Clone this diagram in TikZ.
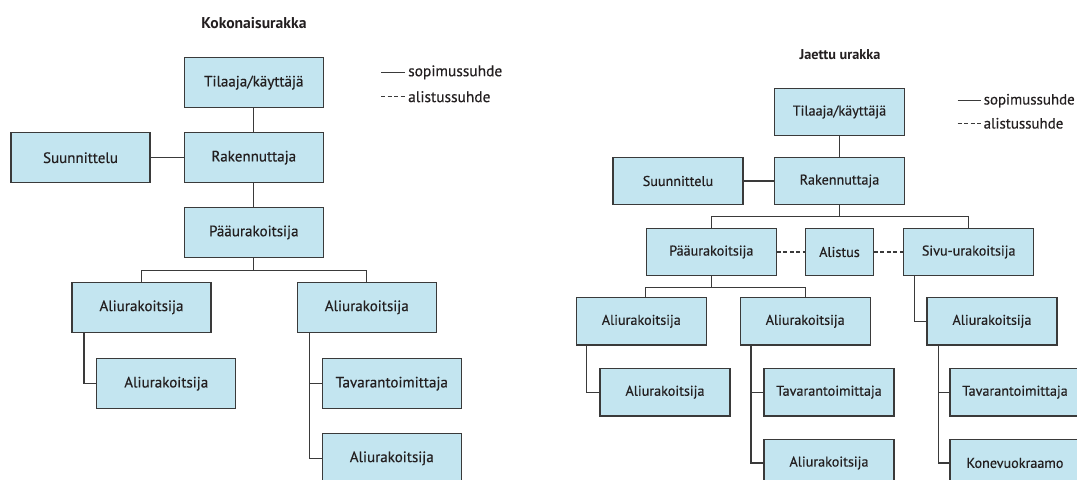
\documentclass[tikz,border=0pt]{standalone}
\usepackage{fontspec}
\setmainfont{PT Sans}
\newfontfamily\labelfont[FakeBold=0.4]{PT Sans}
\usetikzlibrary{calc}
\definecolor{boxfill}{HTML}{C3E5F0}
\definecolor{boxline}{HTML}{3A3A3A}
\definecolor{ink}{HTML}{231F20}
\begin{document}
\begin{tikzpicture}[x=1bp,y=-1bp,
  box/.style={draw=boxline, fill=boxfill, line width=1.3bp, inner sep=0pt, text=ink},
  bigbox/.style={box, minimum width=139bp, minimum height=50bp, font=\labelfont\fontsize{15.1}{17}\selectfont},
  smallbox/.style={box, minimum width=130bp, minimum height=47.5bp, font=\labelfont\fontsize{14.2}{16}\selectfont},
  link/.style={draw=boxline, line width=1.3bp},
  subord/.style={link, dash pattern=on 4bp off 2.5bp},
  heading/.style={font=\bfseries\fontsize{15.7}{18}\selectfont, text=ink},
  legendtext/.style={anchor=west, inner sep=0pt, text=ink, font=\labelfont\fontsize{15.5}{17}\selectfont}]
\useasboundingbox (0,0) rectangle (1077,480);
\clip (0,0) rectangle (1077,480);

% ---------- Kokonaisurakka ----------
\node[heading] (h1) at (254,22.7) {Kokonaisurakka};

\node[bigbox] (T1) at (253.8,82.7) {Tilaaja/käyttäjä};
\node[bigbox] (S1) at (80.5,157.7) {Suunnittelu};
\node[bigbox] (R1) at (253.8,157.7) {Rakennuttaja};
\node[bigbox] (P1) at (253.8,232.5) {Pääurakoitsija};
\node[bigbox] (A1) at (141.5,307.3) {Aliurakoitsija};
\node[bigbox] (B1) at (366.8,307.3) {Aliurakoitsija};
\node[bigbox] (A1s) at (166.3,383.7) {Aliurakoitsija};
\node[bigbox] (B1t) at (391.8,383.7) {Tavarantoimittaja};
\node[bigbox] (B1a) at (391.8,458.3) {Aliurakoitsija};

\draw[link] (T1.south) -- (R1.north);
\draw[link] (S1.east) -- (R1.west);
\draw[link] (R1.south) -- (P1.north);
\coordinate (bus1) at ($(P1.south)+(0,12.7)$);
\draw[link] (P1.south) -- (bus1);
\draw[link] (A1.north) |- (bus1) -| (B1.north);
\draw[link] ($(A1.south west)+(12.7,0)$) |- (A1s.west);
\draw[link] ($(B1.south west)+(12.6,0)$) |- (B1t.west);
\draw[link] ($(B1.south west)+(12.6,0)$) |- (B1a.west);

% legend
\coordinate (k1a) at (381,72.3);  \coordinate (k1b) at (405,72.3);
\coordinate (k2a) at (381,96.7);  \coordinate (k2b) at (405,96.7);
\draw[link] (k1a) -- (k1b);
\draw[subord] (k2a) -- (k2b);
\node[legendtext] (kt1) at (408,72.3) {sopimussuhde};
\node[legendtext] (kt2) at (408,96.7) {alistussuhde};

% ---------- Jaettu urakka ----------
\node[heading, font=\bfseries\fontsize{14.3}{16}\selectfont] (h2) at (840,55) {Jaettu urakka};

\node[smallbox] (T2) at (839.5,112) {Tilaaja/käyttäjä};
\node[smallbox] (S2) at (678,181) {Suunnittelu};
\node[smallbox] (R2) at (839.5,181) {Rakennuttaja};
\node[smallbox] (P2) at (711.3,252) {Pääurakoitsija};
\node[smallbox, minimum width=67.6bp] (L2) at (839.5,252) {Alistus};
\node[smallbox] (V2) at (968.7,252) {Sivu-urakoitsija};
\node[smallbox] (A2) at (641.3,321.3) {Aliurakoitsija};
\node[smallbox] (M2) at (805.2,321.3) {Aliurakoitsija};
\node[smallbox] (A2s) at (665,392.2) {Aliurakoitsija};
\node[smallbox] (M2t) at (829,392.2) {Tavarantoimittaja};
\node[smallbox] (M2a) at (829,463) {Aliurakoitsija};
\node[smallbox] (C2) at (992,321.3) {Aliurakoitsija};
\node[smallbox] (C2t) at (1015,392.2) {Tavarantoimittaja};
\node[smallbox] (C2k) at (1015,463) {Konevuokraamo};

\draw[link] (T2.south) -- (R2.north);
\draw[link] (S2.east) -- (R2.west);
\coordinate (bus0) at ($(R2.south)+(0,11)$);
\draw[link] (R2.south) -- (bus0);
\draw[link] (P2.north) |- (bus0) -| (V2.north);
\draw[subord] (P2.east) -- (L2.west);
\draw[subord] (L2.east) -- (V2.west);
\coordinate (bus2) at ($(P2.south)+(0,11)$);
\draw[link] (P2.south) -- (bus2);
\draw[link] (P2.south west |- A2.north) |- (bus2) -| (M2.north);
\draw[link] ($(A2.south west)+(11,0)$) |- (A2s.west);
\draw[link] ($(M2.south west)+(11.4,0)$) |- (M2t.west);
\draw[link] ($(M2.south west)+(11.4,0)$) |- (M2a.west);
\draw[link] ($(V2.south west)+(11.7,0)$) |- (C2.west);
\draw[link] ($(C2.south west)+(12.3,0)$) |- (C2t.west);
\draw[link] ($(C2.south west)+(12.3,0)$) |- (C2k.west);

% legend
\coordinate (q1a) at (957.5,100.7);  \coordinate (q1b) at (981,100.7);
\coordinate (q2a) at (957.5,123.3);  \coordinate (q2b) at (981,123.3);
\draw[link] (q1a) -- (q1b);
\draw[subord] (q2a) -- (q2b);
\node[legendtext, font=\labelfont\fontsize{15}{17}\selectfont] (qt1) at (983.5,100.7) {sopimussuhde};
\node[legendtext, font=\labelfont\fontsize{15}{17}\selectfont] (qt2) at (983.5,123.3) {alistussuhde};
\end{tikzpicture}
\end{document}
